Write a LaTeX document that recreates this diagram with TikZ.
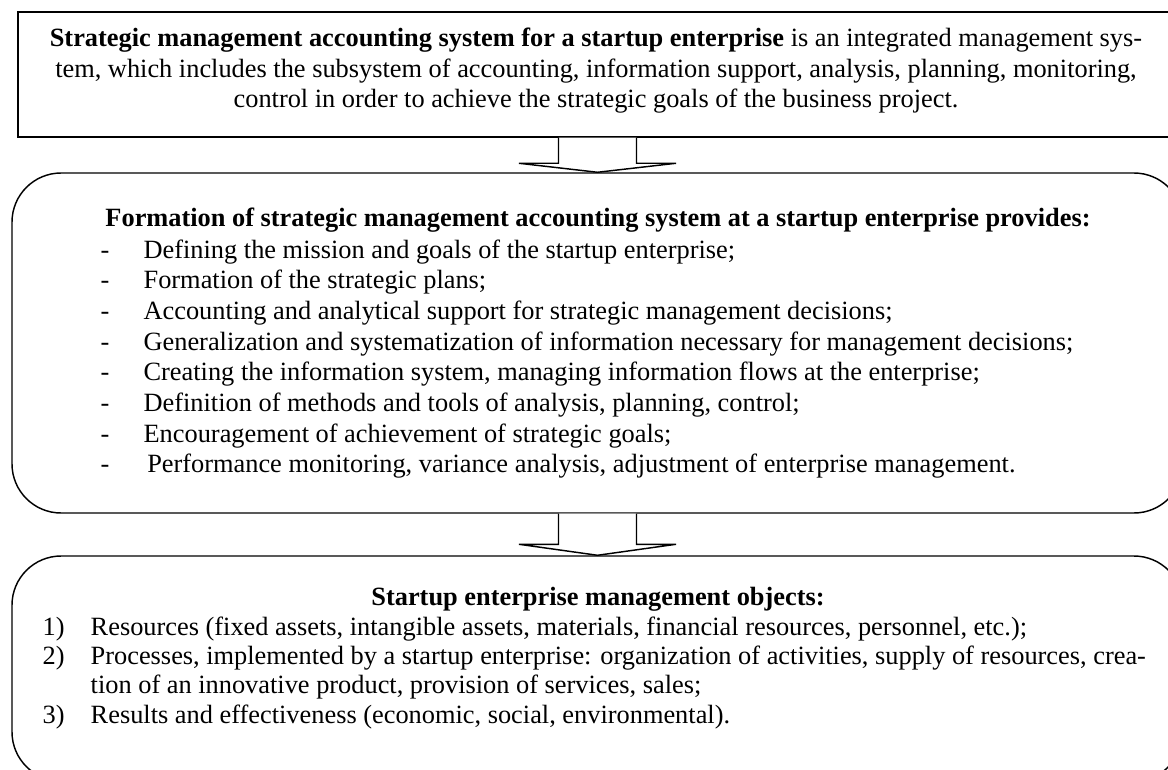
\documentclass[tikz,border=0pt]{standalone}
\usepackage{fontspec}
\setmainfont{Liberation Serif}
\usetikzlibrary{calc,fit}
\newcommand{\setfont}[1]{\fontsize{14.5}{#1}\selectfont\lineskiplimit-100pt\relax}
\tikzset{
  every picture/.style={line width=0.8pt},
  box/.style={draw, inner sep=0pt},
  roundbox/.style={box, rounded corners=27pt},
  txt/.style={inner sep=0pt, font=\setfont{16.85pt}},
  head/.style={txt, font=\setfont{16.85pt}\bfseries},
  lst/.style={txt, align=left, anchor=north west},
  blk/.style={line width=0.8pt, fill=white},
}
\newcommand{\dashitem}[1]{\makebox[23.6pt][l]{-}#1}
\newcommand{\numitem}[2]{\makebox[26.4pt][l]{#1}#2}
% open block arrow from the bottom of #1 down to the top of #2
\newcommand{\blockarrow}[3]{%
  \draw[blk] ($(#1.south -| #2.north)+(-39,0)$) |- ($(#2.north)+(-78.5,-#3)$)
    -- (#2.north) -- ($(#2.north)+(78.5,-#3)$) -| ($(#1.south -| #2.north)+(39,0)$);}

\begin{document}
\begin{tikzpicture}[x=0.55pt, y=-0.55pt]
  \useasboundingbox (0,0) rectangle (1168,769);
  \clip (0,0) rectangle (1168,769);
  % the three blocks (they run past the right and bottom edges)
  \node[box, fit={(18,12) (1190,137)}] (top) {};
  \node[roundbox, fit={(12,173) (1183,513)}] (mid) {};
  \node[roundbox, fit={(12,556) (1183,781)}] (bot) {};

  \node[txt, align=center, font=\setfont{16.75pt}] (toptext) at (596,71) {\textbf{Strategic management accounting system for a startup enterprise} is an integrated management sys-\\
    tem, which includes the subsystem of accounting, information support, analysis, planning, monitoring,\\
    control in order to achieve the strategic goals of the business project.};

  \node[head] (midhead) at (598,220) {Formation of strategic management accounting system at a startup enterprise provides:};
  \node[lst] (midlist) at (100,239) {\dashitem{Defining the mission and goals of the startup enterprise;}\\
    \dashitem{Formation of the strategic plans;}\\
    \dashitem{Accounting and analytical support for strategic management decisions;}\\
    \dashitem{Generalization and systematization of information necessary for management decisions;}\\
    \dashitem{Creating the information system, managing information flows at the enterprise;}\\
    \dashitem{Definition of methods and tools of analysis, planning, control;}\\
    \dashitem{Encouragement of achievement of strategic goals;}\\
    \dashitem{\hspace{2pt}Performance monitoring, variance analysis, adjustment of enterprise management.}};

  \node[head] (bothead) at (598,599) {Startup enterprise management objects:};
  \node[lst, font=\setfont{16.1pt}] (botlist) at (42,616) {\numitem{1)}{Resources (fixed assets, intangible assets, materials, financial resources, personnel, etc.);}\\
    \numitem{2)}{Processes, implemented by a startup enterprise: organization of activities, supply of resources, crea-}\\
    \numitem{}{tion of an innovative product, provision of services, sales;}\\
    \numitem{3)}{Results and effectiveness (economic, social, environmental).}};

  \blockarrow{top}{mid}{9}
  \blockarrow{mid}{bot}{11}
\end{tikzpicture}
\end{document}
